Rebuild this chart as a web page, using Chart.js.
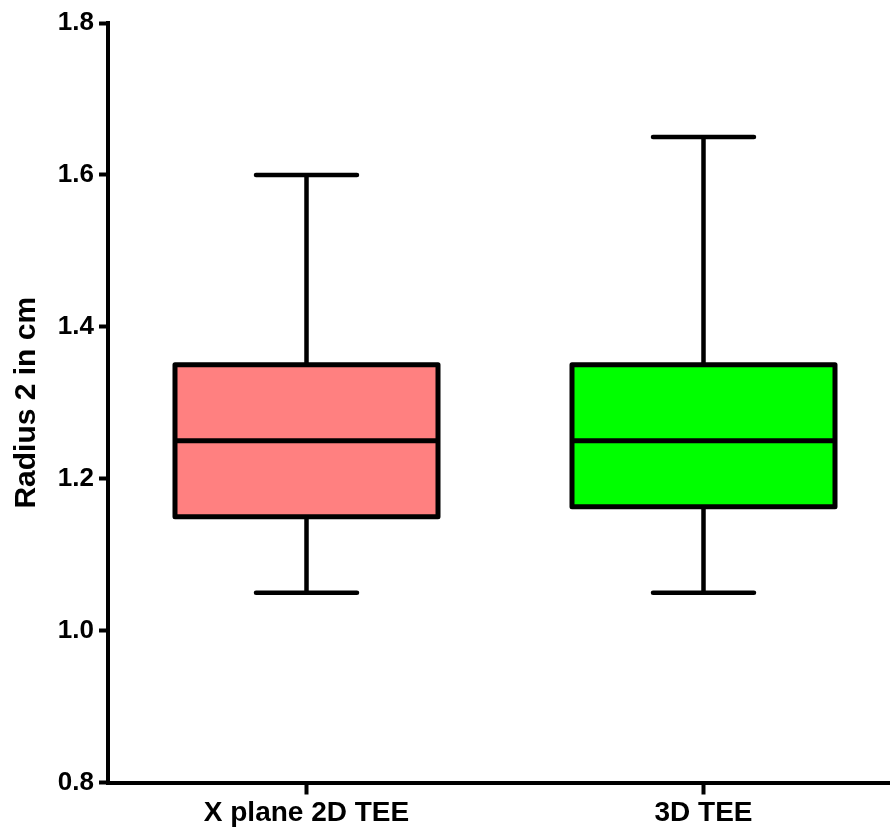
<!DOCTYPE html>
<html>
<head>
<meta charset="utf-8">
<script src="https://cdn.jsdelivr.net/npm/chart.js@4.4.0/dist/chart.umd.min.js"></script>
<style>
  html, body { margin: 0; padding: 0; background: #fff; overflow: hidden; }
  #wrap { width: 890px; height: 827px; overflow: hidden; position: relative; }
  #box { width: 910px; height: 827px; position: absolute; left: 0; top: 0; }
</style>
</head>
<body>
<div id="wrap"><div id="box"><canvas id="c"></canvas></div></div>
<script>
const categories = ['X plane 2D TEE', '3D TEE'];
const mins    = [1.05, 1.05];
const q1s     = [1.15, 1.163];
const medians = [1.25, 1.25];
const q3s     = [1.35, 1.35];
const maxs    = [1.60, 1.65];
const boxColors = ['#FF8080', '#00FF00'];
const yTicks = [0.8, 1.0, 1.2, 1.4, 1.6, 1.8];

const boxPlugin = {
  id: 'boxWhiskers',
  beforeDatasetsDraw(chart) {
    const ctx = chart.ctx, y = chart.scales.y;
    const meta = chart.getDatasetMeta(0);
    ctx.save();
    ctx.strokeStyle = '#000';
    ctx.lineWidth = 4.5;
    ctx.lineCap = 'round';
    meta.data.forEach((bar, i) => {
      const cx = bar.x;
      const capHalf = bar.width * 0.384 / 2;
      const yMin = y.getPixelForValue(mins[i]);
      const yMax = y.getPixelForValue(maxs[i]);
      const yQ1 = y.getPixelForValue(q1s[i]);
      const yQ3 = y.getPixelForValue(q3s[i]);
      ctx.beginPath();
      ctx.moveTo(cx, yQ3); ctx.lineTo(cx, yMax);
      ctx.moveTo(cx, yQ1); ctx.lineTo(cx, yMin);
      ctx.moveTo(cx - capHalf, yMax); ctx.lineTo(cx + capHalf, yMax);
      ctx.moveTo(cx - capHalf, yMin); ctx.lineTo(cx + capHalf, yMin);
      ctx.stroke();
    });
    ctx.restore();
  },
  afterDatasetsDraw(chart) {
    const ctx = chart.ctx, y = chart.scales.y;
    const meta = chart.getDatasetMeta(0);
    ctx.save();
    ctx.strokeStyle = '#000';
    ctx.lineWidth = 5;
    ctx.lineJoin = 'round';
    meta.data.forEach((bar, i) => {
      const left = bar.x - bar.width / 2;
      const right = bar.x + bar.width / 2;
      const yQ1 = y.getPixelForValue(q1s[i]);
      const yQ3 = y.getPixelForValue(q3s[i]);
      const yMed = y.getPixelForValue(medians[i]);
      ctx.strokeRect(left, yQ3, right - left, yQ1 - yQ3);
      ctx.beginPath();
      ctx.moveTo(left, yMed); ctx.lineTo(right, yMed);
      ctx.stroke();
    });
    ctx.restore();
  }
};

new Chart(document.getElementById('c'), {
  type: 'bar',
  data: {
    labels: categories,
    datasets: [{
      data: q1s.map((q, i) => [q, q3s[i]]),
      backgroundColor: boxColors,
      borderWidth: 0,
      barPercentage: 0.6625,
      categoryPercentage: 1.0
    }]
  },
  options: {
    responsive: true,
    maintainAspectRatio: false,
    animation: false,
    events: [],
    layout: { padding: { top: 23, right: 8, bottom: 0, left: 0 } },
    plugins: { legend: { display: false }, tooltip: { enabled: false } },
    scales: {
      x: {
        offset: true,
        afterFit(s) { s.height = 44.5; },
        grid: { display: true, offset: false, drawOnChartArea: false, drawTicks: true,
                tickLength: 12, tickWidth: 4, tickColor: '#000' },
        border: { display: true, color: '#000', width: 4 },
        ticks: { color: '#000', padding: 2, font: { family: 'Liberation Sans, Arial, sans-serif', size: 28, weight: 'bold' } }
      },
      y: {
        min: 0.8, max: 1.8,
        afterFit(s) { s.width = 108; },
        afterBuildTicks(s) { s.ticks = yTicks.map(v => ({ value: v })); },
        grid: { display: true, drawOnChartArea: false, drawTicks: true,
                tickLength: 9, tickWidth: 4, tickColor: '#000' },
        border: { display: true, color: '#000', width: 4 },
        ticks: { color: '#000', padding: 5, callback: v => Number(v).toFixed(1),
                 font: { family: 'Liberation Sans, Arial, sans-serif', size: 26, weight: 'bold' } },
        title: { display: true, text: 'Radius 2 in cm', color: '#000', padding: { top: 9, bottom: 0 },
                 font: { family: 'Liberation Sans, Arial, sans-serif', size: 30, weight: 'bold' } }
      }
    }
  },
  plugins: [boxPlugin]
});
</script>
</body>
</html>
